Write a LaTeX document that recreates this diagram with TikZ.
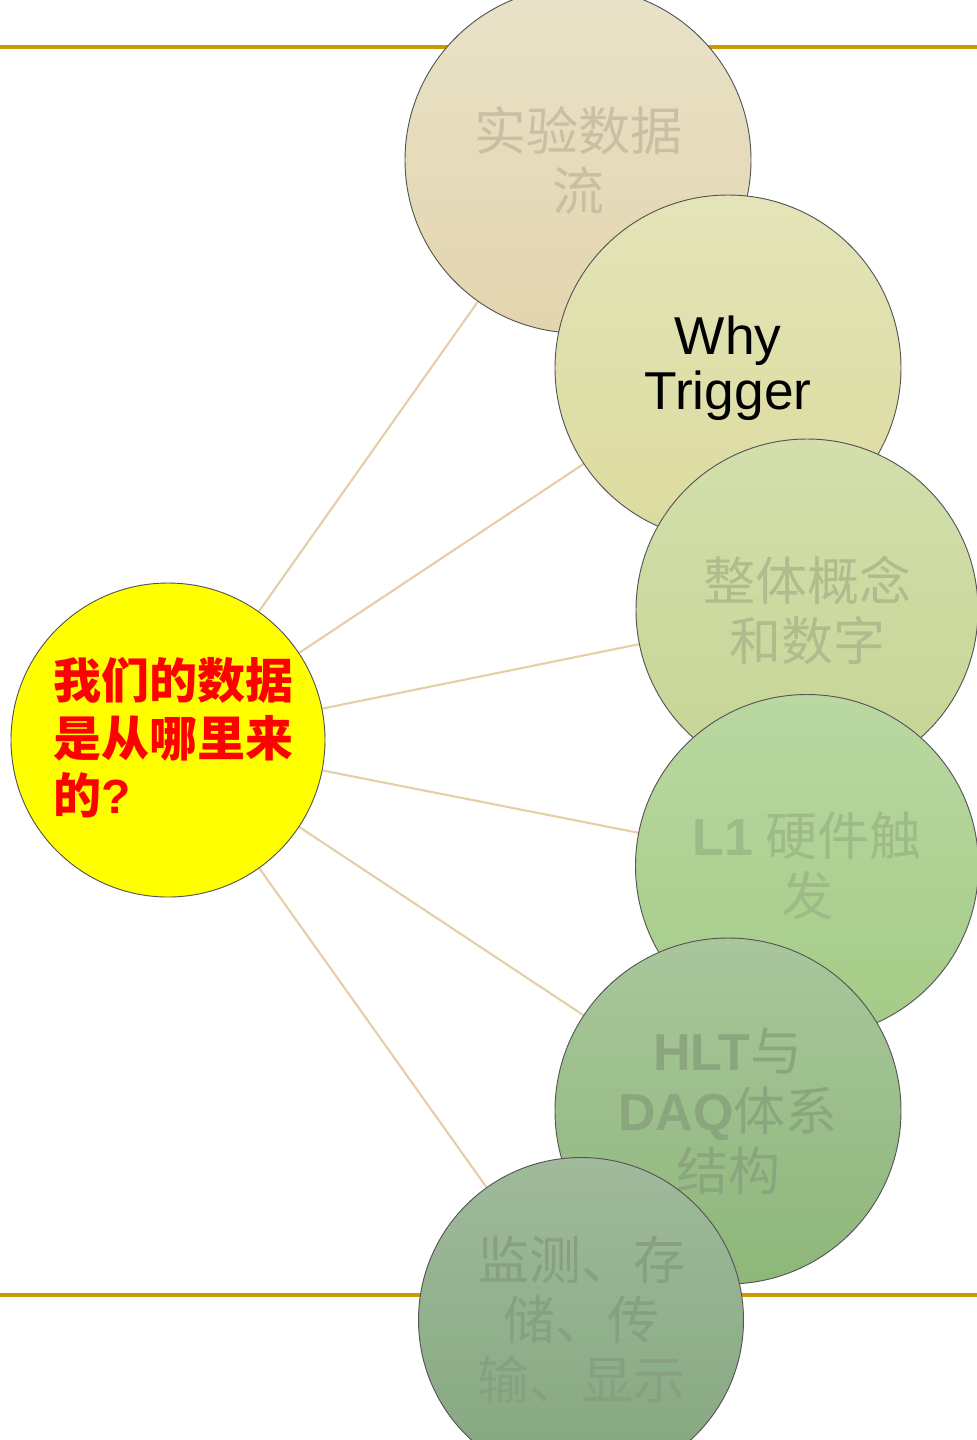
\documentclass[tikz,border=0pt]{standalone}
\usepackage{fontspec}
\setmainfont{Liberation Sans}
\newfontfamily\cjk{Noto Sans CJK SC}
\usetikzlibrary{backgrounds}

\definecolor{gold}{HTML}{CC9900}
\definecolor{spoke}{HTML}{E6CFA8}
\definecolor{rim}{HTML}{555555}
\definecolor{hubred}{HTML}{FF0000}
\definecolor{hubyellow}{HTML}{FFFF00}
% bubble shades: top, bottom, text
\definecolor{aTop}{HTML}{E9E2C8}\definecolor{aBot}{HTML}{E3D5AE}\definecolor{aTxt}{HTML}{C9C0A4}
\definecolor{bTop}{HTML}{E3E4B8}\definecolor{bBot}{HTML}{DCDB9E}
\definecolor{cTop}{HTML}{D2DFAC}\definecolor{cBot}{HTML}{C6D594}\definecolor{cTxt}{HTML}{AEBC8E}
\definecolor{dTop}{HTML}{BAD8A2}\definecolor{dBot}{HTML}{A4CB86}\definecolor{dTxt}{HTML}{9EBA86}
\definecolor{eTop}{HTML}{A9C69C}\definecolor{eBot}{HTML}{8EB77A}\definecolor{eTxt}{HTML}{8BA67E}
\definecolor{fTop}{HTML}{A0BA9C}\definecolor{fBot}{HTML}{84A77E}\definecolor{fTxt}{HTML}{87A07F}

\tikzset{
  rule/.style={draw=gold, line width=3pt},
  spokeline/.style={draw=spoke, line width=1.6pt},
  diam/.style={minimum size=#1*0.75pt},
  bubble/.style={circle, draw=rim, line width=0.7pt, inner sep=0pt,
    align=center, font=\cjk\fontsize{39}{45}\selectfont},
  hubtext/.style={align=left, anchor=west, inner sep=0pt,
    font=\cjk\bfseries\fontsize{36}{43}\selectfont}
}

\newcommand{\latinb}[1]{{\rmfamily\bfseries #1}}

\begin{document}
\begin{tikzpicture}[x=0.75pt, y=-0.75pt]
  \useasboundingbox (0,0) rectangle (977,1440);
  \clip (0,0) rectangle (977,1440);

  % horizontal rules
  \draw[rule] (0,47) -- (977,47);
  \draw[rule] (0,1295) -- (977,1295);

  % outer bubbles, each overlapping the previous one
  \node[bubble, diam=346, top color=aTop, bottom color=aBot, text=aTxt]
        (c1) at (578,160) {实验数据\\流};
  \node[bubble, diam=346, top color=bTop, bottom color=bBot, text=black,
        font=\rmfamily\fontsize{40}{41}\selectfont] (c2) at (728,368) {Why\\Trigger};
  \node[bubble, diam=342, top color=cTop, bottom color=cBot, text=cTxt]
        (c3) at (807,610) {整体概念\\和数字};
  \node[bubble, diam=343, top color=dTop, bottom color=dBot, text=dTxt]
        (c4) at (807,866) {\latinb{L1} 硬件触\\发};
  \node[bubble, diam=346, top color=eTop, bottom color=eBot, text=eTxt]
        (c5) at (728,1111) {\latinb{HLT}与\\\latinb{DAQ}体系\\结构};
  \node[bubble, diam=325, top color=fTop, bottom color=fBot, text=fTxt]
        (c6) at (581,1320) {监测、存\\储、传\\输、显示};

  % central hub
  \node[circle, draw=rim, line width=0.7pt, fill=hubyellow, diam=314,
        inner sep=0pt] (hub) at (168,740) {};
  \node[hubtext, text=hubred] (hubtxt) at (53,738)
        {我们的数据\\是从哪里来\\的{\rmfamily\bfseries ?}};

  % spokes from the hub to every bubble
  \begin{scope}[on background layer]
    \foreach \c in {c1,c2,c3,c4,c5,c6}{
      \draw[spokeline] (hub.center) -- (\c.center);
    }
  \end{scope}
\end{tikzpicture}
\end{document}
